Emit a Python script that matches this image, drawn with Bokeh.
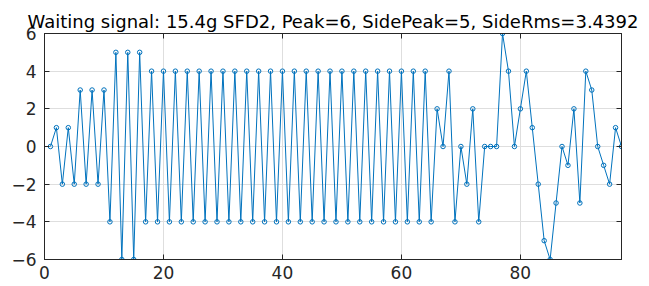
from bokeh.plotting import figure
from bokeh.models import FixedTicker, LinearAxis, Range1d
from bokeh.embed import file_html
from bokeh.resources import INLINE

title_text = "Waiting signal: 15.4g SFD2, Peak=6, SidePeak=5, SideRms=3.4392"

sample_index = list(range(1, 98))
signal_values = [
    0, 1, -2, 1, -2, 3, -2, 3, -2, 3,
    -4, 5, -6, 5, -6, 5, -4, 4, -4, 4,
    -4, 4, -4, 4, -4, 4, -4, 4, -4, 4,
    -4, 4, -4, 4, -4, 4, -4, 4, -4, 4,
    -4, 4, -4, 4, -4, 4, -4, 4, -4, 4,
    -4, 4, -4, 4, -4, 4, -4, 4, -4, 4,
    -4, 4, -4, 4,
    -4, 2, 0, 4, -4, 0,
    -2, 2, -4, 0, 0, 0, 6, 4, 0, 2,
    4, 1, -2, -5, -6, -3, 0, -1, 2, -3,
    4, 3, 0, -1, -2, 1, 0,
]

x_ticks = [0, 20, 40, 60, 80]
x_tick_labels = ["0", "20", "40", "60", "80"]
y_ticks = [-6, -4, -2, 0, 2, 4, 6]
y_tick_labels = ["\u22126", "\u22124", "\u22122", "0", "2", "4", "6"]

FONT = "DejaVu Sans"
AX = "#262626"
BLUE = "#0072BD"

p = figure(
    frame_width=577, frame_height=226,
    output_backend="svg", toolbar_location=None,
    x_range=Range1d(0, 97), y_range=Range1d(-6, 6),
    min_border_left=44, min_border_right=28,
    min_border_top=33, min_border_bottom=27,
    title=title_text,
)
p.title.align = "center"
p.title.text_font = FONT
p.title.text_font_size = "18px"
p.title.text_font_style = "normal"
p.title.text_color = "black"
p.title.standoff = 4
p.background_fill_color = "white"
p.border_fill_color = "white"
p.outline_line_color = AX
p.outline_line_width = 1

for ax, ticks, labels in ((p.xaxis[0], x_ticks, x_tick_labels), (p.yaxis[0], y_ticks, y_tick_labels)):
    ax.ticker = FixedTicker(ticks=ticks)
    ax.major_label_overrides = {t: l for t, l in zip(ticks, labels)}
    ax.major_label_text_font = FONT
    ax.major_label_text_font_size = "17px"
    ax.major_label_text_color = AX
    ax.axis_line_color = AX
    ax.major_tick_line_color = AX
    ax.major_tick_in = 5
    ax.major_tick_out = 0
    ax.minor_tick_line_color = None
p.xaxis.major_label_standoff = 6
p.yaxis.major_label_standoff = 8

for loc, ticks in (("right", y_ticks), ("above", x_ticks)):
    a = LinearAxis(ticker=FixedTicker(ticks=ticks))
    a.major_label_text_font_size = "0px"
    a.major_label_text_color = None
    a.major_label_standoff = 0
    a.axis_line_color = AX
    a.major_tick_line_color = AX
    a.major_tick_in = 5
    a.major_tick_out = 0
    a.minor_tick_line_color = None
    p.add_layout(a, loc)

p.xgrid.ticker = FixedTicker(ticks=x_ticks)
p.ygrid.ticker = FixedTicker(ticks=y_ticks)
p.grid.grid_line_color = "#dedede"
p.grid.grid_line_width = 1

p.line(sample_index, signal_values, line_color=BLUE, line_width=1)
p.scatter(sample_index, signal_values, marker="circle", size=4.5,
          line_color=BLUE, fill_color=None, line_width=1)

open("out.html", "w").write(file_html(p, INLINE))
